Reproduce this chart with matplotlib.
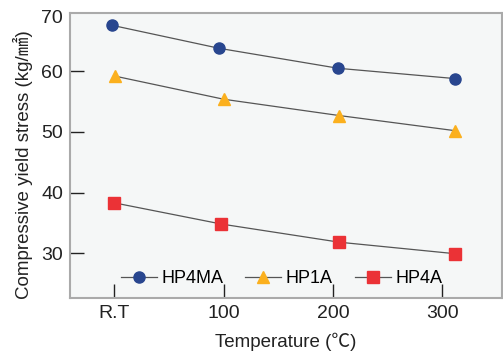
import matplotlib
matplotlib.use("Agg")
import matplotlib.pyplot as plt

# temperatures as placed on the chart (R.T drawn at ~0)
temp_hp4ma = [-2, 96, 205, 312]
temp_hp1a = [1, 100, 206, 312]
temp_hp4a = [0, 98, 206, 312]

stress_hp4ma = [67.6, 63.8, 60.5, 58.8]
stress_hp1a = [59.2, 55.4, 52.7, 50.2]
stress_hp4a = [38.3, 34.8, 31.8, 29.9]

xticks = [0, 100, 200, 300]
xtick_labels = ["R.T", "100", "200", "300"]
yticks = [30, 40, 50, 60]

fonts = ["Liberation Sans", "Noto Sans CJK KR", "DejaVu Sans"]
plt.rcParams["font.family"] = fonts

fig = plt.figure(figsize=(5.03, 3.56), dpi=100)
ax = fig.add_axes([0.139, 0.163, 0.859, 0.800])
ax.set_facecolor("#f5f7f7")

line_kw = dict(color="#555555", lw=0.9)
ax.plot(temp_hp4ma, stress_hp4ma, marker="o", ms=8, mfc="#28468f", mec="#28468f",
        label="HP4MA", **line_kw)
ax.plot(temp_hp1a, stress_hp1a, marker="^", ms=9, mfc="#fbb01e", mec="#fbb01e",
        label="HP1A", **line_kw)
ax.plot(temp_hp4a, stress_hp4a, marker="s", ms=8, mfc="#eb3236", mec="#eb3236",
        label="HP4A", **line_kw)

ax.set_xlim(-40.5, 354.6)
ax.set_ylim(22.6, 69.6)
ax.set_xticks(xticks)
ax.set_xticklabels(xtick_labels)
ax.set_yticks(yticks)
ax.tick_params(direction="in", length=10, width=1, labelsize=14, colors="#222222", pad=5)
ax.tick_params(axis="y", pad=5)
ax.text(-0.016, 0.982, "70", transform=ax.transAxes, fontsize=14, color="#222222",
        ha="right", va="center")

for s in ax.spines.values():
    s.set_color("#aaaaaa")
    s.set_linewidth(1.5)

ax.set_ylabel("Compressive yield stress (kg/㎟)", fontsize=13.5, color="#222222")
ax.yaxis.set_label_coords(-0.086, 0.467)
ax.set_xlabel("Temperature (℃)", fontsize=13.5, color="#222222", labelpad=8)

ax.legend(loc="lower center", bbox_to_anchor=(0.49, -0.02), ncol=3, frameon=False,
          fontsize=13, handlelength=2.0, columnspacing=1.2, handletextpad=0.25)

fig.savefig("out.png", dpi=100)
